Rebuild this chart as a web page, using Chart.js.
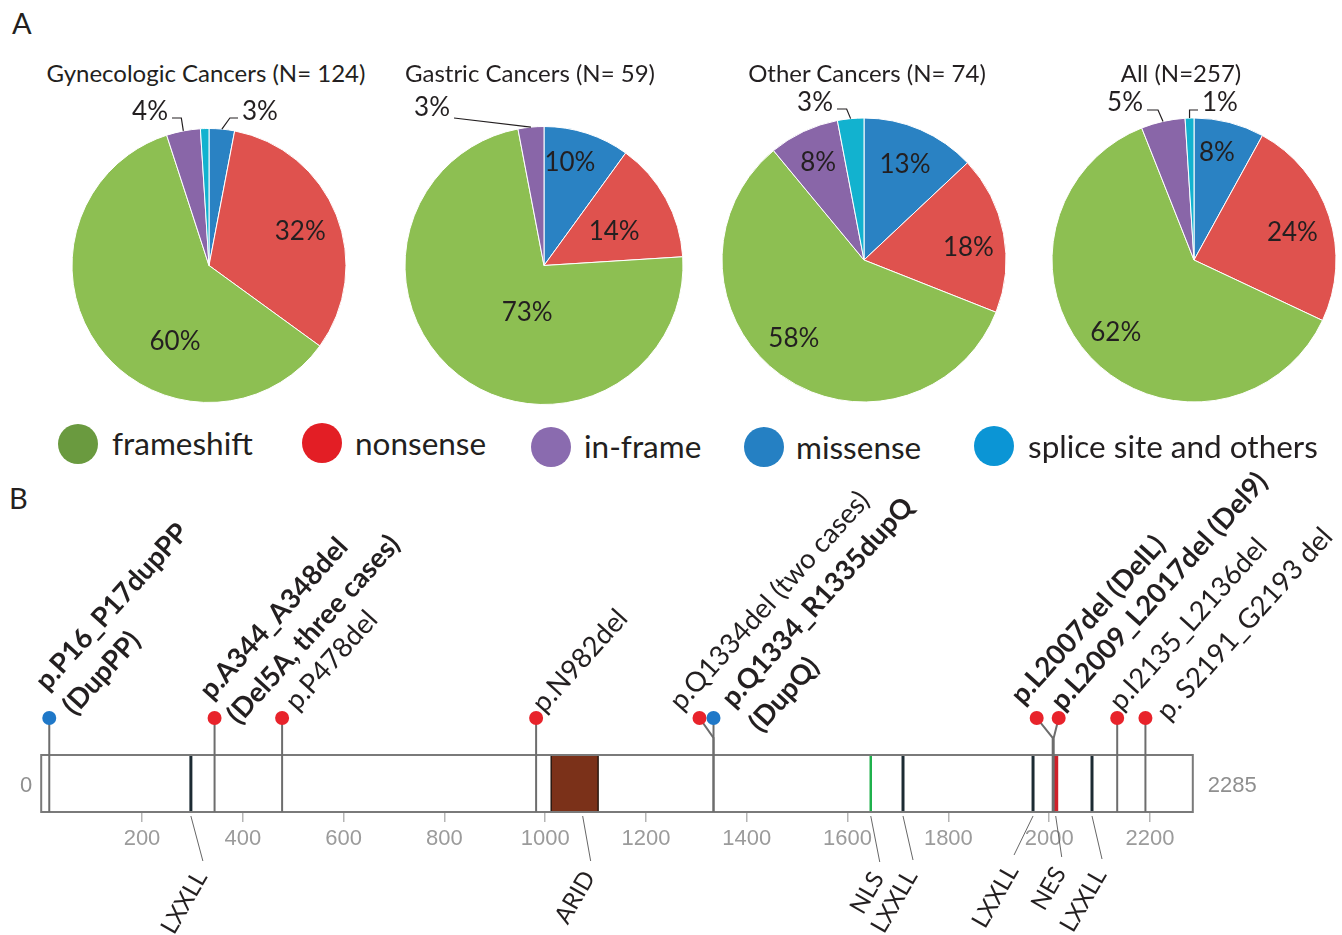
<!DOCTYPE html>
<html>
<head>
<meta charset="utf-8">
<title>ARID1A mutation spectrum</title>
<script src="https://cdn.jsdelivr.net/npm/chart.js@4.4.1/dist/chart.umd.min.js"></script>
<style>
  html, body { margin: 0; padding: 0; background: #fff; }
  #fig { position: relative; width: 1342px; height: 935px; overflow: hidden;
         font-family: Lato, "Open Sans", sans-serif; color: #231f20; }
  #fig canvas { position: absolute; }
  .panel { position: absolute; font-size: 29px; line-height: 1; }
  .ttl { position: absolute; font-size: 24px; line-height: 1; white-space: nowrap;
         transform: translate(-50%, -50%); }
  .dot { position: absolute; border-radius: 50%; }
  .legtxt { position: absolute; font-size: 31.5px; line-height: 1; white-space: nowrap;
            transform: translateY(-50%); }
</style>
</head>
<body>
<div id="fig">
  <div class="panel" style="left:12px;top:8px">A</div>
  <div class="panel" style="left:9px;top:483px">B</div>
</div>
<script>
// ---------- Panel A: mutation type per cohort (percent of cases) ----------
// slices run clockwise from 12 o'clock in this order
const sliceTypes = ['missense', 'nonsense', 'frameshift', 'in-frame', 'splice site and others'];
const cohortNames = ['Gynecologic Cancers', 'Gastric Cancers', 'Other Cancers', 'All'];
const cohortN = [124, 59, 74, 257];
const gynecologicPct = [3, 32, 60, 4, 1];
const gastricPct = [10, 14, 73, 3, 0];
const otherPct = [13, 18, 58, 8, 3];
const allPct = [8, 24, 62, 5, 1];
const legendLabels = ['frameshift', 'nonsense', 'in-frame', 'missense', 'splice site and others'];

// ---------- Panel B: in-frame / duplication variants along ARID1A ----------
const proteinLength = 2285;
const axisTicks = [200, 400, 600, 800, 1000, 1200, 1400, 1600, 1800, 2000, 2200];
const mutationPos = [16, 344, 478, 982, 1334, 1334, 2007, 2009, 2135, 2191];
const mutationKind = ['dup', 'del', 'del', 'del', 'del', 'dup', 'del', 'del', 'del', 'del'];
const mutationText = [
  ['p.P16_P17dupPP', '(DupPP)'],
  ['p.A344_A348del', '(Del5A, three cases)'],
  ['p.P478del'],
  ['p.N982del'],
  ['p.Q1334del (two cases)'],
  ['p.Q1334_R1335dupQ', '(DupQ)'],
  ['p.L2007del (DelL)'],
  ['p.L2009_L2017del (Del9)'],
  ['p.I2135_L2136del'],
  ['p. S2191_G2193 del']
];
const domainName = ['LXXLL', 'ARID', 'NLS', 'LXXLL', 'LXXLL', 'NES', 'LXXLL'];
const domainStart = [297, 1012, 1646, 1710, 1968, 2013, 2085];
const domainEnd = [297, 1105, 1646, 1710, 1968, 2013, 2085];

// ---------- styles ----------
const sliceColors = {
  'missense': '#2a82c3', 'nonsense': '#df524e', 'frameshift': '#8dbf52',
  'in-frame': '#8966a8', 'splice site and others': '#12b2cf'
};
const legendColors = {
  'frameshift': '#6a9a3f', 'nonsense': '#e31e25', 'in-frame': '#8a6baf',
  'missense': '#2580c3', 'splice site and others': '#0b95d5'
};
const kindColors = { dup: '#1f78c8', del: '#e8232b' };
const domainStyle = {
  LXXLL: { color: '#1c2b33', width: 3 },
  NLS: { color: '#1fb14c', width: 2.5 },
  NES: { color: '#d0202a', width: 5 },
  ARID: { color: '#7b3119', width: 0 }
};
const TEXT = '#231f20';
const FONT = 'Lato, "Open Sans", sans-serif';
const TICK_FONT = '"Liberation Sans Narrow", "Liberation Sans", sans-serif';

// ---------- layout ----------
const pieLayout = [
  { cx: 209, cy: 265.5, r: 137, titleX: 206, labels: [
    { out: true, tx: 33, ty: -153.5, align: 'left', ex: 8, ly: 6 },
    { a: 69.8, f: 0.71 }, { a: 204, f: 0.61 },
    { out: true, tx: -41, ty: -153.5, align: 'right', ex: -2, ly: 6 }, null ] },
  { cx: 544, cy: 265.5, r: 139, titleX: 530, labels: [
    { a: 14.2, f: 0.76 }, { a: 64.4, f: 0.56 }, { a: 199.7, f: 0.36 },
    { out: true, tx: -94, ty: -157.5, align: 'right', straight: true, ly: 10 }, null ] },
  { cx: 864, cy: 260, r: 142, titleX: 867, labels: [
    { a: 23.3, f: 0.73 }, { a: 83.4, f: 0.74 }, { a: 221.9, f: 0.74 }, { a: 334.9, f: 0.76 },
    { out: true, tx: -31, ty: -157, align: 'right', ex: -4, ly: 6 } ] },
  { cx: 1194, cy: 260, r: 142, titleX: 1181, labels: [
    { a: 12.1, f: 0.77 }, { a: 74.2, f: 0.72 }, { a: 227.3, f: 0.75 },
    { out: true, tx: -51, ty: -157, align: 'right', ex: -5, ly: 7 },
    { out: true, tx: 8, ty: -157, align: 'left', ex: 0, ly: 7 } ] }
];
const titleY = 73;
const legendLayout = [
  { cx: 78, cy: 444, tx: 112, ty: 444 },
  { cx: 322, cy: 443, tx: 355, ty: 444 },
  { cx: 551, cy: 447, tx: 584, ty: 447 },
  { cx: 764, cy: 447, tx: 796, ty: 448 },
  { cx: 994, cy: 446, tx: 1028, ty: 447 }
];
const legendRadius = 20;

// label offsets (px) relative to each lollipop head; shift spreads overlapping heads
const mutLayout = [
  { shift: 0, tdx: -2, tdy: -26, bold: true },
  { shift: 0, tdx: -3, tdy: -17, bold: true },
  { shift: 0, tdx: 15, tdy: -6 },
  { shift: 0, tdx: 8, tdy: -4 },
  { shift: -14, tdx: -18, tdy: -6 },
  { shift: 0, tdx: 20, tdy: -9, bold: true },
  { shift: -16, tdx: -14, tdy: -12, bold: true },
  { shift: 5, tdx: 4, tdy: -6, bold: true },
  { shift: 0, tdx: 4, tdy: -6 },
  { shift: 0, tdx: 23, tdy: 4 }
];
const labelAngle = -48;
// leader end offsets (px) from each domain at the bar's lower edge
const domainLabelLayout = [
  { lx: 12, ly: 45 }, { lx: 8, ly: 45 }, { lx: 9, ly: 46 }, { lx: 10, ly: 44 },
  { lx: -19, ly: 39 }, { lx: 6, ly: 41 }, { lx: 10, ly: 43 }
];
const domainAngle = -60;

const fig = document.getElementById('fig');

// ---------- Panel A ----------
const pieLabelPlugin = {
  id: 'pieLabels',
  afterDatasetsDraw(chart, args, opts) {
    const ctx = chart.ctx;
    const meta = chart.getDatasetMeta(0);
    const vals = chart.data.datasets[0].data;
    ctx.save();
    ctx.font = '26px ' + FONT;
    ctx.fillStyle = TEXT;
    ctx.strokeStyle = TEXT;
    ctx.lineWidth = 1.2;
    ctx.textBaseline = 'middle';
    meta.data.forEach((arc, i) => {
      const L = opts.labels[i];
      if (!L) return;
      const p = arc.getProps(['x', 'y', 'startAngle', 'endAngle', 'outerRadius'], true);
      const txt = vals[i] + '%';
      if (!L.out) {
        const a = L.a * Math.PI / 180;
        ctx.textAlign = 'center';
        ctx.fillText(txt, p.x + Math.sin(a) * L.f * p.outerRadius, p.y - Math.cos(a) * L.f * p.outerRadius);
      } else {
        const mid = (p.startAngle + p.endAngle) / 2;
        const rx = p.x + Math.cos(mid) * p.outerRadius;
        const ry = p.y + Math.sin(mid) * p.outerRadius;
        const tx = p.x + L.tx, ty = p.y + L.ty;
        ctx.textAlign = L.align;
        ctx.fillText(txt, tx, ty);
        const ly = ty + L.ly;
        const lx = L.align === 'right' ? tx + 4 : tx - 4;
        ctx.beginPath();
        ctx.moveTo(lx, ly);
        if (!L.straight) ctx.lineTo(rx + L.ex, ly);
        ctx.lineTo(rx, ry);
        ctx.stroke();
      }
    });
    ctx.restore();
  }
};

const pieData = [gynecologicPct, gastricPct, otherPct, allPct];
pieData.forEach((vals, k) => {
  const lay = pieLayout[k];
  const side = 2 * lay.r + 1;
  const box = { x: lay.cx - 175, y: 88, w: 350, h: 332 };
  const cv = document.createElement('canvas');
  cv.width = box.w; cv.height = box.h;
  cv.style.left = box.x + 'px'; cv.style.top = box.y + 'px';
  cv.style.width = box.w + 'px'; cv.style.height = box.h + 'px';
  fig.appendChild(cv);
  const areaL = lay.cx - side / 2 - box.x;
  const areaT = lay.cy - side / 2 - box.y;
  new Chart(cv, {
    type: 'pie',
    data: {
      labels: sliceTypes,
      datasets: [{
        data: vals,
        backgroundColor: sliceTypes.map(t => sliceColors[t]),
        borderColor: '#ffffff',
        borderWidth: 1
      }]
    },
    options: {
      responsive: false,
      animation: false,
      events: [],
      layout: { padding: { left: areaL, top: areaT, right: box.w - areaL - side, bottom: box.h - areaT - side } },
      plugins: { legend: { display: false }, tooltip: { enabled: false }, pieLabels: { labels: lay.labels } }
    },
    plugins: [pieLabelPlugin]
  });
  const t = document.createElement('div');
  t.className = 'ttl';
  t.textContent = k < 3 ? `${cohortNames[k]} (N= ${cohortN[k]})` : `${cohortNames[k]} (N=${cohortN[k]})`;
  t.style.left = lay.titleX + 'px';
  t.style.top = titleY + 'px';
  fig.appendChild(t);
});

legendLabels.forEach((name, i) => {
  const L = legendLayout[i];
  const d = document.createElement('div');
  d.className = 'dot';
  d.style.left = (L.cx - legendRadius) + 'px';
  d.style.top = (L.cy - legendRadius) + 'px';
  d.style.width = d.style.height = (2 * legendRadius) + 'px';
  d.style.background = legendColors[name];
  fig.appendChild(d);
  const s = document.createElement('div');
  s.className = 'legtxt';
  s.textContent = name;
  s.style.left = L.tx + 'px';
  s.style.top = L.ty + 'px';
  fig.appendChild(s);
});

// ---------- Panel B ----------
const HEAD_Y = 1.65, JOIN_Y = 1.3, BAR_TOP = 1;
const proteinPlugin = {
  id: 'protein',
  afterDraw(chart) {
    const ctx = chart.ctx;
    const xs = chart.scales.x, ys = chart.scales.y;
    const X = v => xs.getPixelForValue(v);
    const Y = v => ys.getPixelForValue(v);
    const x0 = X(0), x1 = X(proteinLength), yb = Y(0), yt = Y(BAR_TOP);
    ctx.save();
    // domains inside the bar
    domainName.forEach((name, i) => {
      const st = domainStyle[name];
      if (name === 'ARID') {
        ctx.fillStyle = st.color;
        ctx.fillRect(X(domainStart[i]), yt, X(domainEnd[i]) - X(domainStart[i]), yb - yt);
        ctx.strokeStyle = '#2b1a12';
        ctx.lineWidth = 1.5;
        ctx.strokeRect(X(domainStart[i]), yt, X(domainEnd[i]) - X(domainStart[i]), yb - yt);
      } else {
        ctx.strokeStyle = st.color;
        ctx.lineWidth = st.width;
        ctx.beginPath();
        ctx.moveTo(X(domainStart[i]), yt);
        ctx.lineTo(X(domainStart[i]), yb);
        ctx.stroke();
      }
    });
    // the bar outline
    ctx.strokeStyle = '#7a7a7a';
    ctx.lineWidth = 2;
    ctx.strokeRect(x0, yt, x1 - x0, yb - yt);
    // length labels
    ctx.font = '22px ' + TICK_FONT;
    ctx.fillStyle = '#8f8f8f';
    ctx.textBaseline = 'middle';
    ctx.textAlign = 'right';
    ctx.fillText('0', x0 - 9, (yt + yb) / 2 + 2);
    ctx.textAlign = 'left';
    ctx.fillText(String(proteinLength), x1 + 15, (yt + yb) / 2 + 2);
    // domain labels with leaders
    ctx.font = '24px ' + FONT;
    domainName.forEach((name, i) => {
      const L = domainLabelLayout[i];
      const cx = (X(domainStart[i]) + X(domainEnd[i])) / 2 + (name === 'ARID' ? 8 : 0);
      const ex = cx + L.lx, ey = yb + 4 + L.ly;
      ctx.strokeStyle = '#555';
      ctx.lineWidth = 0.9;
      ctx.beginPath();
      ctx.moveTo(cx, yb + 4);
      ctx.lineTo(ex, ey);
      ctx.stroke();
      ctx.save();
      ctx.translate(ex - 12, ey + 6);
      ctx.rotate(domainAngle * Math.PI / 180);
      ctx.fillStyle = TEXT;
      ctx.textAlign = 'right';
      ctx.textBaseline = 'top';
      ctx.fillText(name, 0, 0);
      ctx.restore();
    });
    // stems and heads
    mutationPos.forEach((pos, i) => {
      const L = mutLayout[i];
      const sx = X(pos), hx = sx + L.shift, hy = Y(HEAD_Y);
      ctx.strokeStyle = '#6d6d6d';
      ctx.lineWidth = 2;
      ctx.beginPath();
      if (L.shift !== 0) {
        ctx.moveTo(hx, hy);
        ctx.lineTo(sx, Y(JOIN_Y));
      } else {
        ctx.moveTo(sx, hy);
      }
      ctx.lineTo(sx, yb);
      ctx.stroke();
    });
    mutationPos.forEach((pos, i) => {
      const L = mutLayout[i];
      const hx = X(pos) + L.shift, hy = Y(HEAD_Y);
      ctx.fillStyle = kindColors[mutationKind[i]];
      ctx.beginPath();
      ctx.arc(hx, hy, 7, 0, Math.PI * 2);
      ctx.fill();
      // label
      ctx.save();
      ctx.translate(hx + L.tdx, hy + L.tdy);
      ctx.rotate(labelAngle * Math.PI / 180);
      ctx.fillStyle = TEXT;
      ctx.textAlign = 'left';
      ctx.textBaseline = 'alphabetic';
      ctx.font = (L.bold ? 'bold ' : '') + '27.5px ' + FONT;
      mutationText[i].forEach((line, k) => ctx.fillText(line, 0, k * 37));
      ctx.restore();
    });
    ctx.restore();
  }
};

const pb = { x: 0, y: 455, w: 1342, h: 480 };
const cvB = document.createElement('canvas');
cvB.width = pb.w; cvB.height = pb.h;
cvB.style.left = pb.x + 'px'; cvB.style.top = pb.y + 'px';
cvB.style.width = pb.w + 'px'; cvB.style.height = pb.h + 'px';
fig.appendChild(cvB);
const barLeft = 41.2, barRight = 1192.8, barBottom = 812, unitPx = 57, xAxisH = 40;
new Chart(cvB, {
  type: 'scatter',
  data: {
    datasets: [{
      data: mutationPos.map(p => ({ x: p, y: HEAD_Y })),
      pointRadius: 0
    }]
  },
  options: {
    responsive: false,
    animation: false,
    events: [],
    layout: { padding: {
      left: barLeft - pb.x,
      right: pb.x + pb.w - barRight,
      top: (barBottom - 2 * unitPx) - pb.y,
      bottom: pb.y + pb.h - barBottom - xAxisH
    } },
    scales: {
      x: {
        type: 'linear', min: 0, max: proteinLength,
        afterBuildTicks: s => { s.ticks = axisTicks.map(v => ({ value: v })); },
        afterFit: s => { s.height = xAxisH; },
        grid: { drawOnChartArea: false, drawTicks: true, tickLength: 10, color: '#b5b5b5', lineWidth: 1.5 },
        border: { display: false },
        ticks: { color: '#9b9b9b', font: { family: TICK_FONT, size: 22 }, padding: 4, maxRotation: 0,
                 autoSkip: false, callback: v => String(v) }
      },
      y: { type: 'linear', min: 0, max: 2, display: false }
    },
    plugins: { legend: { display: false }, tooltip: { enabled: false } }
  },
  plugins: [proteinPlugin]
});
</script>
</body>
</html>
